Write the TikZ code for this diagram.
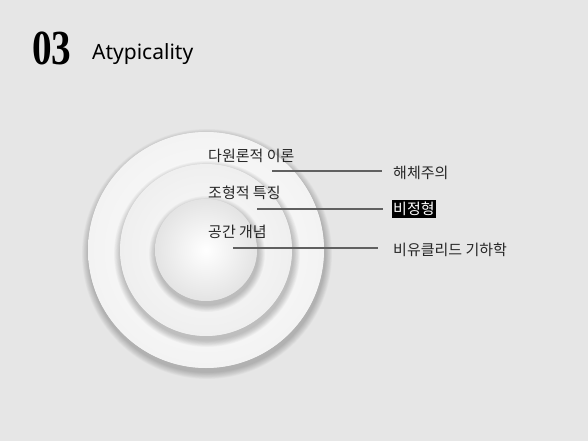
\documentclass[tikz,border=0pt]{standalone}
\usepackage{fontspec}
\setmainfont{Noto Sans}
\newfontfamily\kr{Noto Sans CJK KR}
\newfontfamily\numfont{Liberation Serif}
\usetikzlibrary{calc}
\definecolor{bg}{HTML}{E6E6E6}
\definecolor{lin}{HTML}{606060}
\tikzset{
  krlabel/.style={font=\kr\fontsize{15}{17}\selectfont, anchor=west, inner sep=0pt, text=black!85},
  leader/.style={draw=lin, line width=1.3pt},
}
\begin{document}
\begin{tikzpicture}[x=1pt,y=-1pt]
\fill[bg] (0,0) rectangle (588,441);
\useasboundingbox (0,0) rectangle (588,441);
% title
\node[anchor=base west, inner sep=0pt] (num) at (32,65) {\scalebox{0.8}[1]{\numfont\bfseries\fontsize{49}{49}\selectfont 03}};
\node[anchor=base west, inner sep=0pt] (title) at (92,60) {\fontsize{21}{23}\selectfont Atypicality};
% circles with soft shadows
\coordinate (c) at (206,250);
\foreach \r/\oc/\ic in {118/F3F3F3/FEFEFE, 86/EFEFEF/FBFBFB, 51/E4E4E4/FFFFFF}{
  \foreach \i in {1,...,10}{
    \fill[black, opacity=0.022] ($(c)+(1,4)$) circle[radius=\r+\i*0.7];
  }
  \definecolor{oc}{HTML}{\oc}
  \definecolor{ic}{HTML}{\ic}
  \fill[oc] (c) circle[radius=\r];
  \shade[inner color=ic, outer color=oc] (c) circle[radius=\r-0.3];
}
\node[circle, minimum size=236pt, inner sep=0pt] (outer) at (c) {};
\node[circle, minimum size=172pt, inner sep=0pt] (middle) at (c) {};
\node[circle, minimum size=102pt, inner sep=0pt] (inner) at (c) {};
% left labels
\node[krlabel] (l1) at (208,156) {다원론적 이론};
\node[krlabel] (l2) at (208,193) {조형적 특징};
\node[krlabel] (l3) at (208,232) {공간 개념};
% right labels
\node[krlabel] (r1) at (393,173) {해체주의};
\node[krlabel, fill=black, text=white, inner xsep=1pt, inner ysep=2pt] (r2) at (392,209) {비정형};
\node[krlabel] (r3) at (393,250) {비유클리드 기하학};
% leaders
\coordinate (a1) at (272,171);
\coordinate (b1) at (382,171);
\coordinate (a2) at (257,209);
\coordinate (b2) at (383,209);
\coordinate (a3) at (233,248);
\coordinate (b3) at (378,248);
\draw[leader] (a1) -- (b1);
\draw[leader] (a2) -- (b2);
\draw[leader] (a3) -- (b3);
\end{tikzpicture}
\end{document}
